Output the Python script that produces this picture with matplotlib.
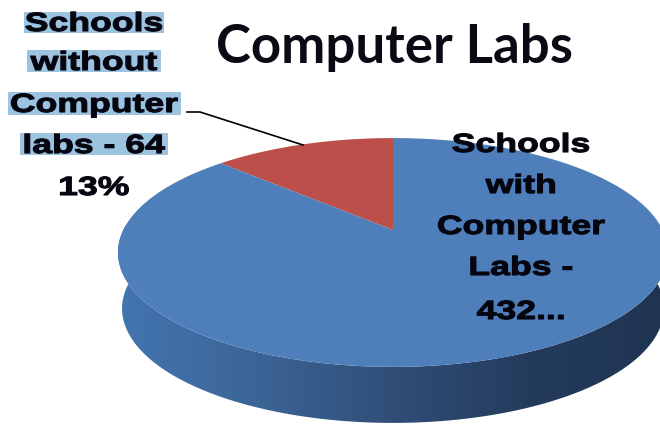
# Computer labs pie, drawn by hand because the original is a tilted 3D pie
import numpy as np
import matplotlib.pyplot as plt
from matplotlib.colors import LinearSegmentedColormap
from matplotlib.patches import Polygon, Rectangle
from matplotlib.patheffects import AbstractPathEffect
from matplotlib.transforms import Affine2D

slices = ['Schools without Computer labs', 'Schools with Computer Labs']
counts = [64, 432]
title = 'Computer Labs'
left_lines = ['Schools', 'without', 'Computer', 'labs - 64', '13%']
right_lines = ['Schools', 'with', 'Computer', 'Labs -', '432...']

# pie geometry in pixels
cx, cy = 393, 230
A, B, k = 269.7, 110.0, 0.1965
depth = 56


class Wide(AbstractPathEffect):
    # the labels in the original are stretched sideways
    def __init__(self, sx=1.0, stroke=0.0):
        super().__init__()
        self.sx = sx
        self.stroke = stroke

    def draw_path(self, renderer, gc, tpath, affine, rgbFace=None):
        box = tpath.get_extents(affine)
        mid = (box.x0 + box.x1) / 2
        wide = affine + Affine2D().translate(-mid, 0).scale(self.sx, 1).translate(mid, 0)
        gc2 = renderer.new_gc()
        gc2.copy_properties(gc)
        gc2.set_linewidth(self.stroke)
        gc2.set_foreground(rgbFace)
        renderer.draw_path(gc2, tpath, wide, rgbFace)
        gc2.restore()


def project(theta):
    # theta from 12 o'clock, counter clockwise -> perspective view of the disc
    u, v = -np.sin(theta), np.cos(theta)
    s = 1 + k * v
    return cx + A * u / s, cy - B * v / s


fig = plt.figure(figsize=(6.6, 4.24), dpi=100)
ax = fig.add_axes([0, 0, 1, 1])

# side wall with left to right shading
t = np.linspace(np.pi / 2 - 0.05, 3 * np.pi / 2 + 0.05, 200)
rim_x, rim_y = project(t)
low_x = cx + (rim_x - cx) * 0.985
low_y = rim_y + depth
wall = Polygon(np.r_[np.c_[rim_x, rim_y], np.c_[low_x, low_y][::-1]],
               closed=True, fc='none', ec='none', transform=ax.transData)
ax.add_patch(wall)
shade = LinearSegmentedColormap.from_list(
    'wall', ['#4375b0', '#3c6597', '#304e78', '#243b5c', '#1f3451'])
img = ax.imshow(np.linspace(0, 1, 256)[None, :], cmap=shade, aspect='auto',
                extent=[118, 668, 424, 200])
img.set_clip_path(wall)

# top face, one wedge per slice
fractions = np.array(counts) / sum(counts)
colors = ['#bd4f4b', '#4f7fbb']
start = 0
for frac, col in zip(fractions, colors):
    a = np.linspace(start, start + 2 * np.pi * frac, 200)
    x, y = project(a)
    ax.fill(np.r_[cx, x], np.r_[cy, y], color=col, lw=0)
    start += 2 * np.pi * frac

# leader line
ax.plot([187, 200, 303], [112, 112, 145], color='black', lw=1.2)

ax.text(394, 47, title, ha='center', va='center', fontsize=38,
        family='Lato', weight='bold', color='#0a0a14')

# highlight bands behind the left label: x0, x1, y0, y1
bands = [(24, 164, 12, 33), (27, 161, 50, 72), (8, 181, 92, 115), (20, 168, 133, 155)]
for x0, x1, y0, y1 in bands:
    ax.add_patch(Rectangle((x0, y0), x1 - x0, y1 - y0, fc='#9cc3e0', ec='none'))

label_fx = [Wide(sx=1.35, stroke=0.8)]

left_y = [24, 63, 105, 146, 188]
for line, y in zip(left_lines, left_y):
    ax.text(94, y, line, ha='center', va='center', fontsize=19,
            family='Liberation Sans', weight='bold', color='#050510',
            path_effects=label_fx)

right_y = [145, 186, 227, 268, 312]
for line, y in zip(right_lines, right_y):
    ax.text(521, y, line, ha='center', va='center', fontsize=19,
            family='Liberation Sans', weight='bold', color='#050510',
            path_effects=label_fx)

ax.set_xlim(0, 660)
ax.set_ylim(424, 0)
ax.axis('off')

plt.savefig('out.png', dpi=100)
